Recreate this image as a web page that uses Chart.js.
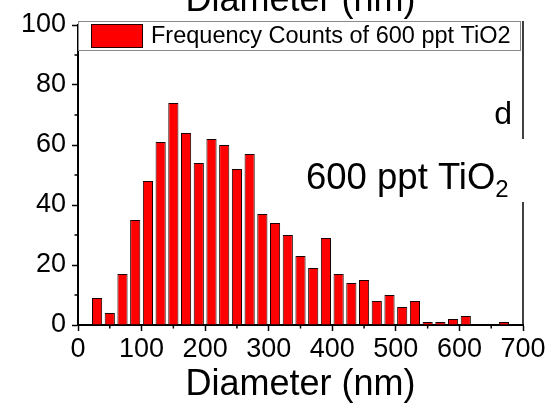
<!DOCTYPE html>
<html>
<head>
<meta charset="utf-8">
<script src="https://cdn.jsdelivr.net/npm/chart.js@4/dist/chart.umd.min.js"></script>
<style>
  html, body { margin: 0; padding: 0; background: #fff; }
  #c { display: block; }
</style>
</head>
<body>
<canvas id="c" width="552" height="411"></canvas>
<script>
// Particle size histogram, 20 nm bins (bin centres in nm)
const binCenters = [30, 50, 70, 90, 110, 130, 150, 170, 190, 210, 230,
                    250, 270, 290, 310, 330, 350, 370, 390, 410, 430, 450,
                    470, 490, 510, 530, 550, 570, 590, 610, 630, 650, 670];
const counts = [9, 4, 17, 35, 48, 61, 74, 64, 54, 62, 60,
                52, 57, 37, 34, 30, 23, 19, 29, 17, 14, 15,
                8, 10, 6, 8, 1, 1, 2, 3, 0, 0, 1];
const xMajorTicks = [0, 100, 200, 300, 400, 500, 600, 700];
const xMinorTicks = [50, 150, 250, 350, 450, 550, 650];
const yMajorTicks = [0, 20, 40, 60, 80, 100];
const yMinorTicks = [10, 30, 50, 70, 90];
const seriesLabel = 'Frequency Counts of 600 ppt TiO2';
const axisTitle = 'Diameter (nm)';
const panelLetter = 'd';
const sampleName = '600 ppt TiO';
const sampleSub = '2';

const FONT = '"Liberation Sans", Arial, Helvetica, sans-serif';

const decor = {
  id: 'decor',
  afterDraw(chart) {
    const { ctx, chartArea: a, scales: { x, y } } = chart;
    ctx.save();

    // minor ticks
    ctx.strokeStyle = '#000';
    ctx.lineWidth = 1.5;
    ctx.beginPath();
    xMinorTicks.forEach(v => {
      const px = x.getPixelForValue(v);
      ctx.moveTo(px, a.bottom); ctx.lineTo(px, a.bottom + 3.5);
    });
    yMinorTicks.forEach(v => {
      const py = y.getPixelForValue(v);
      ctx.moveTo(a.left, py); ctx.lineTo(a.left - 3.5, py);
    });
    ctx.stroke();

    // right frame line
    ctx.beginPath();
    ctx.lineWidth = 1.5;
    ctx.moveTo(a.right, a.top - 4); ctx.lineTo(a.right, a.bottom);
    ctx.stroke();

    // legend box
    ctx.fillStyle = '#fff';
    ctx.fillRect(a.left, a.top - 4, 443, 30);
    ctx.strokeStyle = '#8a8a8a';
    ctx.lineWidth = 1;
    ctx.strokeRect(a.left + 0.5, a.top - 3.5, 442, 29);
    const ds = chart.data.datasets[0];
    ctx.fillStyle = ds.backgroundColor;
    ctx.fillRect(91, a.top - 1, 52, 24);
    ctx.strokeStyle = '#200';
    ctx.strokeRect(91.5, a.top - 0.5, 51, 23);
    ctx.fillStyle = '#000';
    ctx.font = '23.5px ' + FONT;
    ctx.textBaseline = 'middle';
    ctx.textAlign = 'left';
    ctx.fillText(ds.label, 151, a.top + 11.5);

    // panel letter
    ctx.font = '32px ' + FONT;
    ctx.textBaseline = 'alphabetic';
    ctx.textAlign = 'right';
    ctx.fillText(panelLetter, 512, 124);

    // sample label on a white background
    ctx.fillStyle = '#fff';
    ctx.fillRect(300, 139, 232, 63);
    ctx.fillStyle = '#000';
    ctx.font = '36.5px ' + FONT;
    ctx.textAlign = 'left';
    const w = ctx.measureText(sampleName).width;
    const x0 = 306;
    ctx.fillText(sampleName, x0, 189);
    ctx.font = '24px ' + FONT;
    ctx.fillText(sampleSub, x0 + w, 197);

    // upper axis title, partly outside the canvas
    ctx.font = '36px ' + FONT;
    ctx.textAlign = 'center';
    ctx.fillText(axisTitle, (a.left + a.right) / 2, 11);

    ctx.restore();
  }
};

const ctx = document.getElementById('c').getContext('2d');
new Chart(ctx, {
  type: 'bar',
  data: {
    datasets: [{
      label: seriesLabel,
      data: binCenters.map((c, i) => ({ x: c, y: counts[i] })),
      backgroundColor: '#ff0000',
      borderColor: '#1a0000',
      borderWidth: 1,
      barPercentage: 0.8,
      categoryPercentage: 1.0
    }]
  },
  options: {
    responsive: false,
    animation: false,
    devicePixelRatio: 1,
    layout: { padding: { top: 25, right: 29, bottom: 0, left: 0 } },
    plugins: { legend: { display: false }, tooltip: { enabled: false } },
    scales: {
      x: {
        type: 'linear',
        min: 0, max: 700,
        offset: false,
        afterFit: s => { s.height = 86; },
        afterBuildTicks: s => { s.ticks = xMajorTicks.map(v => ({ value: v })); },
        ticks: { color: '#000', font: { family: FONT, size: 27 }, padding: 2, maxRotation: 0, autoSkip: false },
        grid: { drawOnChartArea: false, tickLength: 6, tickColor: '#000', tickWidth: 1.5, offset: false },
        border: { color: '#000', width: 2 },
        title: { display: true, text: axisTitle, color: '#000', font: { family: FONT, size: 36 }, padding: { top: 0, bottom: 4 } }
      },
      y: {
        min: 0, max: 100,
        afterFit: s => { s.width = 78; },
        afterBuildTicks: s => { s.ticks = yMajorTicks.map(v => ({ value: v })); },
        ticks: { color: '#000', font: { family: FONT, size: 27 }, padding: 6 },
        grid: { drawOnChartArea: false, tickLength: 6, tickColor: '#000', tickWidth: 1.5 },
        border: { color: '#000', width: 2 }
      }
    }
  },
  plugins: [decor]
});
</script>
</body>
</html>
